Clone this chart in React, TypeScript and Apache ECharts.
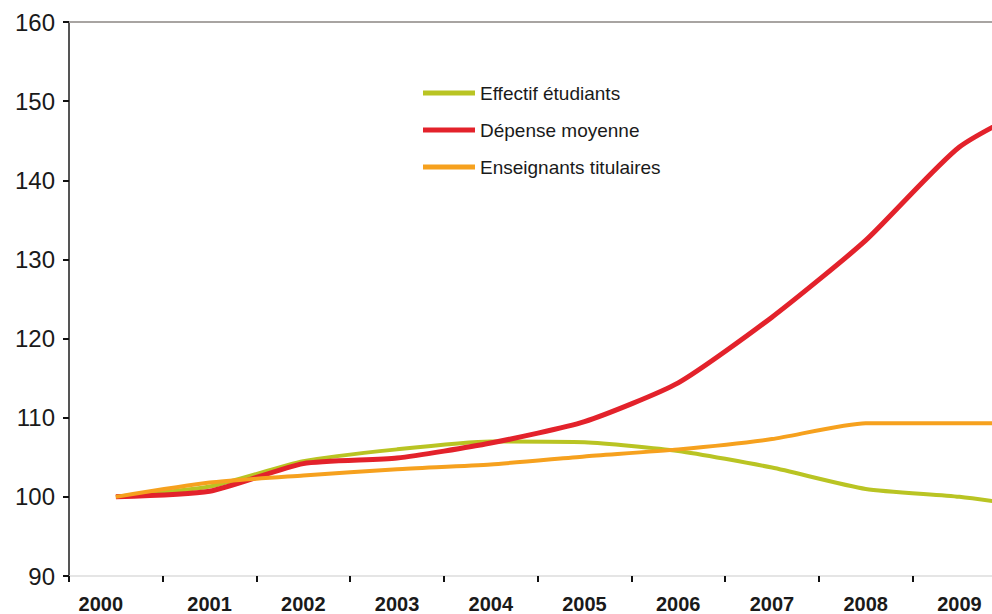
import React, { useEffect, useRef } from "react";
import * as echarts from "echarts";

const years = ["2000", "2001", "2002", "2003", "2004", "2005", "2006", "2007", "2008", "2009", ""];
const effectifEtudiants = [100, 101.3, 104.5, 106, 107, 106.9, 105.8, 103.7, 101, 100, 98.4];
const depenseMoyenne = [100, 100.7, 104.2, 104.9, 106.8, 109.5, 114.4, 122.7, 132.4, 144.2, 150.6];
const enseignantsTitulaires = [100, 101.8, 102.7, 103.5, 104.1, 105.1, 106, 107.3, 109.3, 109.3, 109.3];
const yTicks = { min: 90, max: 160, interval: 10 };

const FONT = "'Liberation Sans Narrow', 'Liberation Sans', Arial, sans-serif";

export default function App() {
  const ref = useRef<HTMLDivElement>(null);
  useEffect(() => {
    if (!ref.current) return;
    const chart = echarts.init(ref.current, null, { renderer: "svg" });
    const xData = years.map((y, i) =>
      i === 0 ? { value: y, textStyle: { padding: [0, 30, 0, 0] } } : y
    );
    chart.setOption({
      animation: false,
      backgroundColor: "#ffffff",
      grid: { left: 69, top: 22, bottom: 38, width: 1031, outerBoundsMode: "none", containLabel: false },
      legend: {
        orient: "vertical",
        left: 418,
        top: 78,
        itemWidth: 52,
        itemHeight: 5,
        itemGap: 17,
        icon: "rect",
        textStyle: { fontFamily: FONT, fontSize: 19, color: "#1a1a1a", lineHeight: 20 },
        data: ["Effectif étudiants", "Dépense moyenne", "Enseignants titulaires"],
      },
      xAxis: [
        {
          type: "category",
          data: xData,
          boundaryGap: true,
          axisLine: { show: true, lineStyle: { color: "#dddddd", width: 1.5 } },
          axisTick: { show: true, length: 6, lineStyle: { color: "#111", width: 2 } },
          axisLabel: {
            margin: 18,
            fontFamily: FONT,
            fontSize: 20,
            fontWeight: "bold",
            color: "#1a1a1a",
          },
          splitLine: { show: false },
        },
        {
          type: "category",
          position: "top",
          data: xData,
          axisLine: { show: true, lineStyle: { color: "#a8a4a2", width: 2 } },
          axisTick: { show: false },
          axisLabel: { show: false },
          splitLine: { show: false },
        },
      ],
      yAxis: {
        type: "value",
        min: yTicks.min,
        max: yTicks.max,
        interval: yTicks.interval,
        axisLine: { show: true, lineStyle: { color: "#555", width: 2 } },
        axisTick: { show: true, length: 6, lineStyle: { color: "#111", width: 2 } },
        axisLabel: {
          margin: 14,
          fontFamily: FONT,
          fontSize: 24,
          color: "#1a1a1a",
        },
        splitLine: { show: false },
      },
      series: [
        {
          name: "Effectif étudiants",
          type: "line",
          data: effectifEtudiants,
          smooth: 0.2,
          symbol: "none",
          lineStyle: { color: "#b9c423", width: 4 },
          itemStyle: { color: "#b9c423" },
        },
        {
          name: "Dépense moyenne",
          type: "line",
          data: depenseMoyenne,
          smooth: 0.2,
          symbol: "none",
          lineStyle: { color: "#e3222b", width: 5 },
          itemStyle: { color: "#e3222b" },
        },
        {
          name: "Enseignants titulaires",
          type: "line",
          data: enseignantsTitulaires,
          smooth: 0.2,
          symbol: "none",
          lineStyle: { color: "#f6a11e", width: 4 },
          itemStyle: { color: "#f6a11e" },
        },
      ],
    });
    return () => chart.dispose();
  }, []);
  return (
    <div
      ref={ref}
      style={{ position: "fixed", left: 0, top: 0, width: 992, height: 614 }}
    />
  );
}
